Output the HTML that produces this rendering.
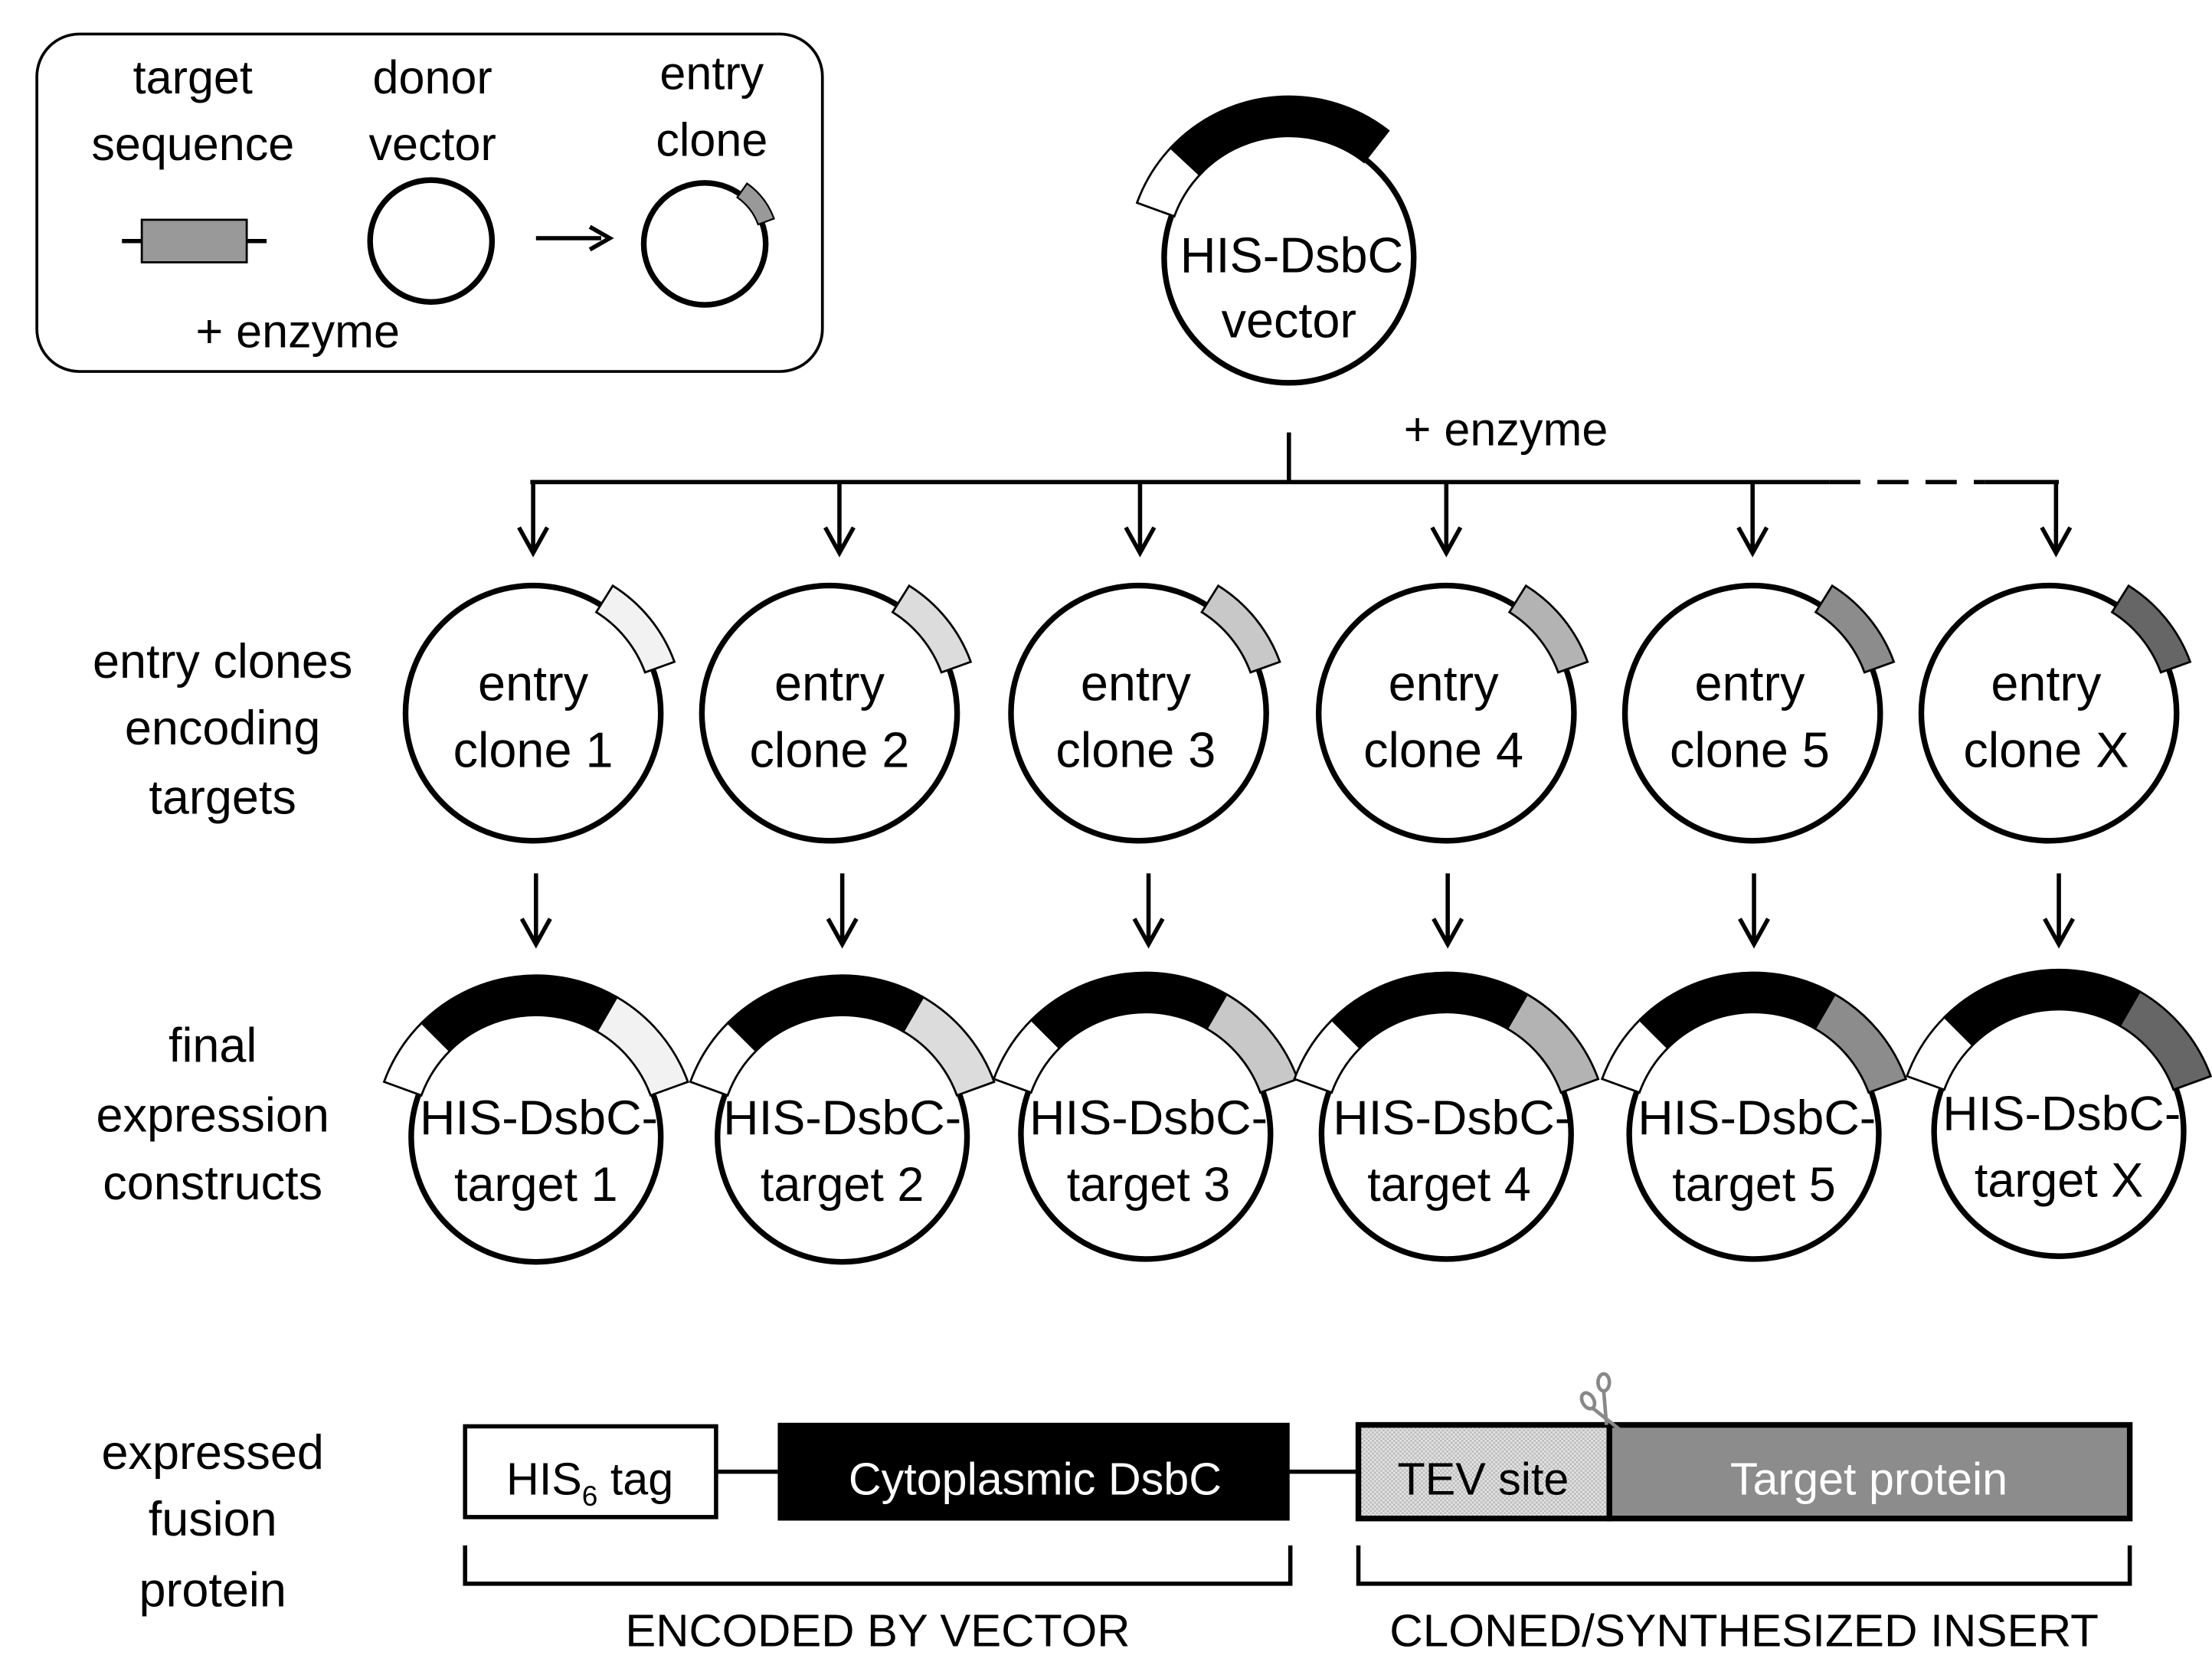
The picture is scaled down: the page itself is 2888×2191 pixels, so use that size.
<!DOCTYPE html>
<html><head><meta charset="utf-8"><style>html,body{margin:0;padding:0;background:#fff}svg{display:block}</style></head>
<body>
<svg xmlns="http://www.w3.org/2000/svg" width="2888" height="2191" viewBox="0 0 1560 1183.5" font-family="'Liberation Sans', sans-serif" font-size="33">
<defs>
<path id="tab" d="M84,0 L106,0 A106,106 0 0 1 83.5,65.3 L66.2,51.7 A84,84 0 0 0 84,0 Z" stroke="#000" stroke-width="1.5"/>
<path id="wh" d="M86,0 L114,0 A114,114 0 0 1 103.3,48.2 L77.9,36.4 A86,86 0 0 0 86,0 Z" fill="#fff" stroke="#000" stroke-width="1.5"/>
<path id="bk" d="M86,0 L114,0 A114,114 0 0 1 29.5,110.1 L22.3,83.1 A86,86 0 0 0 86,0 Z" fill="#000" stroke="#000" stroke-width="1.5"/>
<path id="bkv" d="M86,0 L114,0 A114,114 0 0 1 9.9,113.5 L7.5,85.7 A86,86 0 0 0 86,0 Z" fill="#000" stroke="#000" stroke-width="1.5"/>
<path id="col" d="M86,0 L114,0 A114,114 0 0 1 87.3,73.3 L65.9,55.3 A86,86 0 0 0 86,0 Z" stroke="#000" stroke-width="1.5"/>
<pattern id="dots" width="3" height="3" patternUnits="userSpaceOnUse"><rect width="3" height="3" fill="#e4e4e4"/><rect width="1.5" height="1.5" fill="#bdbdbd"/><rect x="1.5" y="1.5" width="1.5" height="1.5" fill="#bdbdbd"/></pattern>
</defs>

<!-- legend -->
<rect x="26" y="24" width="554" height="238" rx="30" fill="none" stroke="#000" stroke-width="2"/>
<g text-anchor="middle">
<text x="136" y="66">target</text><text x="136" y="113">sequence</text>
<text x="305" y="66">donor</text><text x="305" y="113">vector</text>
<text x="502" y="63">entry</text><text x="502" y="110">clone</text>
<text x="210" y="245">+ enzyme</text>
</g>
<line x1="86" y1="170" x2="188" y2="170" stroke="#000" stroke-width="3"/>
<rect x="100" y="155" width="74" height="30" fill="#999" stroke="#000" stroke-width="1.5"/>
<circle cx="304" cy="170" r="43" fill="#fff" stroke="#000" stroke-width="4"/>
<line x1="378" y1="168" x2="424" y2="168" stroke="#000" stroke-width="3"/>
<path d="M416,160 L430,168 L416,176" fill="none" stroke="#000" stroke-width="3"/>
<circle cx="497" cy="172" r="43" fill="#fff" stroke="#000" stroke-width="4"/>
<path transform="translate(497,172) rotate(-55)" d="M40,0 L52,0 A52,52 0 0 1 42.6,29.8 L32.8,23 A40,40 0 0 0 40,0 Z" fill="#999" stroke="#000" stroke-width="1.2"/>

<!-- vector -->
<circle cx="909" cy="182" r="88" fill="#fff" stroke="#000" stroke-width="4"/>
<use href="#wh" transform="translate(909,182) rotate(-160)"/>
<use href="#bkv" transform="translate(909,182) rotate(-137)"/>
<g text-anchor="middle" font-size="35">
<text x="911" y="192">HIS-DsbC</text><text x="909" y="238">vector</text>
<text x="1062" y="314" font-size="33">+ enzyme</text>
</g>

<!-- distribution -->
<g stroke="#000" stroke-width="3" fill="none">
<line x1="909" y1="305" x2="909" y2="340"/>
<line x1="374" y1="340" x2="1290" y2="340"/>
<line x1="1290" y1="340" x2="1400" y2="340" stroke-dasharray="22,12"/>
<line x1="1400" y1="340" x2="1452" y2="340"/>
</g>
<g stroke="#000" stroke-width="3" fill="none">
<path d="M376,340 V390 M366,372 L376,390 L386,372"/>
<path d="M592,340 V390 M582,372 L592,390 L602,372"/>
<path d="M804,340 V390 M794,372 L804,390 L814,372"/>
<path d="M1020,340 V390 M1010,372 L1020,390 L1030,372"/>
<path d="M1236,340 V390 M1226,372 L1236,390 L1246,372"/>
<path d="M1450,340 V390 M1440,372 L1450,390 L1460,372"/>

<path d="M378,616 V666 M368,648 L378,666 L388,648"/>
<path d="M594,616 V666 M584,648 L594,666 L604,648"/>
<path d="M810,616 V666 M800,648 L810,666 L820,648"/>
<path d="M1021,616 V666 M1011,648 L1021,666 L1031,648"/>
<path d="M1237,616 V666 M1227,648 L1237,666 L1247,648"/>
<path d="M1452,616 V666 M1442,648 L1452,666 L1462,648"/>
</g>

<!-- left labels -->
<g text-anchor="middle" font-size="34">
<text x="157" y="478">entry clones</text><text x="157" y="525">encoding</text><text x="157" y="574">targets</text>
<text x="150" y="749">final</text><text x="150" y="798">expression</text><text x="150" y="846">constructs</text>
<text x="150" y="1036">expressed</text><text x="150" y="1083">fusion</text><text x="150" y="1133">protein</text>
</g>

<!-- entry clones -->
<g fill="#fff" stroke="#000" stroke-width="4">
<circle cx="376" cy="503" r="90"/><circle cx="585" cy="503" r="90"/><circle cx="803" cy="503" r="90"/>
<circle cx="1020" cy="503" r="90"/><circle cx="1236" cy="503" r="90"/><circle cx="1445" cy="503" r="90"/>
</g>
<use href="#tab" fill="#f2f2f2" transform="translate(376,503) rotate(-58)"/>
<use href="#tab" fill="#dcdcdc" transform="translate(585,503) rotate(-58)"/>
<use href="#tab" fill="#c8c8c8" transform="translate(803,503) rotate(-58)"/>
<use href="#tab" fill="#b3b3b3" transform="translate(1020,503) rotate(-58)"/>
<use href="#tab" fill="#8c8c8c" transform="translate(1236,503) rotate(-58)"/>
<use href="#tab" fill="#666" transform="translate(1445,503) rotate(-58)"/>
<g text-anchor="middle" font-size="35">
<text x="376" y="494">entry</text><text x="376" y="541">clone 1</text>
<text x="585" y="494">entry</text><text x="585" y="541">clone 2</text>
<text x="801" y="494">entry</text><text x="801" y="541">clone 3</text>
<text x="1018" y="494">entry</text><text x="1018" y="541">clone 4</text>
<text x="1234" y="494">entry</text><text x="1234" y="541">clone 5</text>
<text x="1443" y="494">entry</text><text x="1443" y="541">clone X</text>
</g>

<!-- final constructs -->
<g fill="#fff" stroke="#000" stroke-width="4">
<circle cx="378" cy="802" r="88"/><circle cx="594" cy="802" r="88"/><circle cx="808" cy="800" r="88"/>
<circle cx="1020" cy="800" r="88"/><circle cx="1237" cy="800" r="88"/><circle cx="1452" cy="798" r="88"/>
</g>
<g>
<use href="#wh" transform="translate(378,802) rotate(-160)"/><use href="#bk" transform="translate(378,802) rotate(-135)"/><use href="#col" fill="#f2f2f2" transform="translate(378,802) rotate(-60)"/>
<use href="#wh" transform="translate(594,802) rotate(-160)"/><use href="#bk" transform="translate(594,802) rotate(-135)"/><use href="#col" fill="#dcdcdc" transform="translate(594,802) rotate(-60)"/>
<use href="#wh" transform="translate(808,800) rotate(-160)"/><use href="#bk" transform="translate(808,800) rotate(-135)"/><use href="#col" fill="#c8c8c8" transform="translate(808,800) rotate(-60)"/>
<use href="#wh" transform="translate(1020,800) rotate(-160)"/><use href="#bk" transform="translate(1020,800) rotate(-135)"/><use href="#col" fill="#b3b3b3" transform="translate(1020,800) rotate(-60)"/>
<use href="#wh" transform="translate(1237,800) rotate(-160)"/><use href="#bk" transform="translate(1237,800) rotate(-135)"/><use href="#col" fill="#8c8c8c" transform="translate(1237,800) rotate(-60)"/>
<use href="#wh" transform="translate(1452,798) rotate(-160)"/><use href="#bk" transform="translate(1452,798) rotate(-135)"/><use href="#col" fill="#666" transform="translate(1452,798) rotate(-60)"/>
</g>
<g text-anchor="middle" font-size="34">
<text x="380" y="800" textLength="168" lengthAdjust="spacingAndGlyphs">HIS-DsbC-</text><text x="378" y="847">target 1</text>
<text x="594" y="800" textLength="168" lengthAdjust="spacingAndGlyphs">HIS-DsbC-</text><text x="594" y="847">target 2</text>
<text x="810" y="800" textLength="168" lengthAdjust="spacingAndGlyphs">HIS-DsbC-</text><text x="810" y="847">target 3</text>
<text x="1024" y="800" textLength="168" lengthAdjust="spacingAndGlyphs">HIS-DsbC-</text><text x="1022" y="847">target 4</text>
<text x="1239" y="800" textLength="168" lengthAdjust="spacingAndGlyphs">HIS-DsbC-</text><text x="1237" y="847">target 5</text>
<text x="1454" y="797" textLength="168" lengthAdjust="spacingAndGlyphs">HIS-DsbC-</text><text x="1452" y="844">target X</text>
</g>

<!-- fusion protein -->
<g stroke="#000" stroke-width="3">
<line x1="505" y1="1038" x2="550" y2="1038"/>
<line x1="908" y1="1038" x2="958" y2="1038"/>
</g>
<rect x="328" y="1006" width="177" height="64" fill="#fff" stroke="#000" stroke-width="3"/>
<rect x="550" y="1005" width="358" height="66" fill="#000" stroke="#000" stroke-width="3"/>
<rect x="958" y="1005" width="177" height="66" fill="url(#dots)" stroke="#000" stroke-width="4"/>
<rect x="1135" y="1005" width="367" height="66" fill="#8c8c8c" stroke="#000" stroke-width="4"/>
<g text-anchor="middle" font-size="32">
<text x="416" y="1054">HIS<tspan font-size="20" dy="8">6</tspan><tspan dy="-8"> tag</tspan></text>
<text x="730" y="1054" fill="#fff">Cytoplasmic DsbC</text>
<text x="1046" y="1054">TEV site</text>
<text x="1318" y="1054" fill="#fff">Target protein</text>
</g>
<!-- scissors -->
<g stroke="#888" stroke-width="2.5" fill="none">
<ellipse cx="1131" cy="975" rx="4" ry="6"/>
<ellipse cx="1120" cy="988" rx="4" ry="6" transform="rotate(-30 1120 988)"/>
<path d="M1131,981 L1133,1005 M1123,993 L1142,1008"/>
</g>
<!-- brackets -->
<g stroke="#000" stroke-width="3" fill="none">
<path d="M328,1090 V1117 H910 V1090"/>
<path d="M958,1090 V1117 H1502 V1090"/>
</g>
<g text-anchor="middle" font-size="32">
<text x="619" y="1161" textLength="356" lengthAdjust="spacingAndGlyphs">ENCODED BY VECTOR</text>
<text x="1230" y="1161" textLength="500" lengthAdjust="spacingAndGlyphs">CLONED/SYNTHESIZED INSERT</text>
</g>
</svg>
</body></html>
